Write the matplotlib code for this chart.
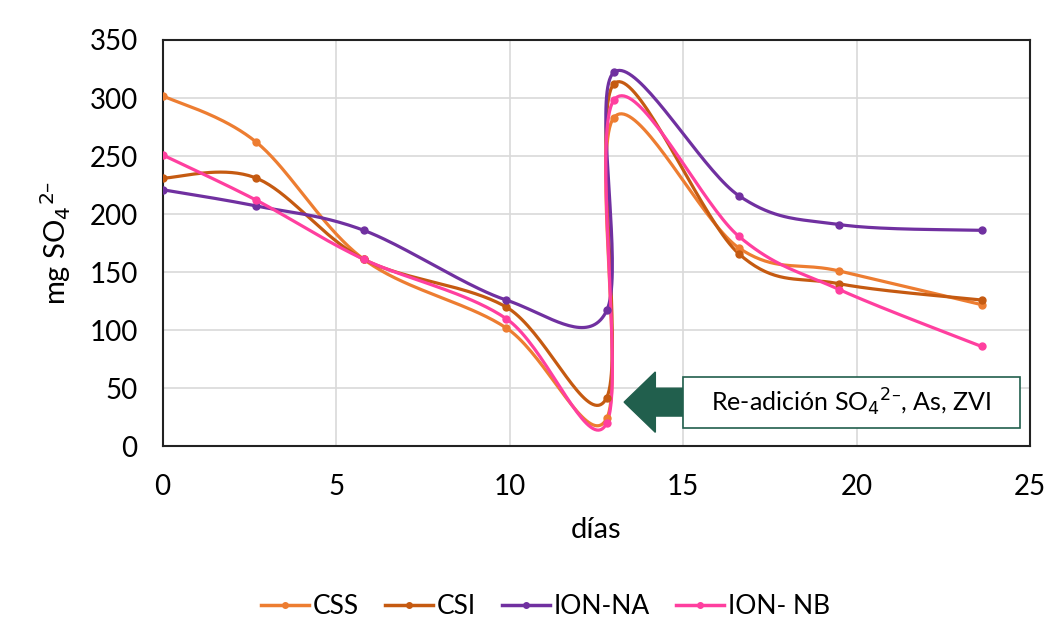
import numpy as np
import matplotlib.pyplot as plt
from matplotlib.patches import FancyArrow, Rectangle

plt.rcParams['font.family'] = ['Lato', 'DejaVu Sans']

dias = [0, 2.7, 5.8, 9.9, 12.8, 13.0, 16.6, 19.5, 23.6]
css = [302, 262, 161, 102, 24, 283, 171, 151, 122]
csi = [231, 231, 161, 120, 42, 312, 166, 140, 126]
ion_na = [221, 207, 186, 126, 117, 322, 216, 191, 186]
ion_nb = [251, 212, 161, 110, 20, 298, 181, 135, 86]

series = [('CSS', css, '#ED7D31'), ('CSI', csi, '#C55A11'),
          ('ION-NA', ion_na, '#7030A0'), ('ION- NB', ion_nb, '#FF3F9F')]


def suave(x, y, yscale=30.0, n=40):
    # curva tipo Excel (Catmull-Rom) en espacio aproximado de pantalla
    p = np.column_stack([np.asarray(x, float), np.asarray(y, float) / yscale])
    pts = np.vstack([p[0], p, p[-1]])
    out = []
    t = np.linspace(0, 1, n)[:, None]
    for i in range(1, len(pts) - 2):
        p0, p1, p2, p3 = pts[i - 1], pts[i], pts[i + 1], pts[i + 2]
        c1 = p1 + (p2 - p0) / 6
        c2 = p2 - (p3 - p1) / 6
        seg = ((1 - t) ** 3) * p1 + 3 * ((1 - t) ** 2) * t * c1 + 3 * (1 - t) * t ** 2 * c2 + t ** 3 * p2
        out.append(seg)
    out = np.vstack(out)
    return out[:, 0], out[:, 1] * yscale


fig = plt.figure(figsize=(10.49, 6.25), dpi=100)
ax = fig.add_axes([0.155, 0.286, 0.827, 0.65])

for nombre, vals, col in series:
    xs, ys = suave(dias, vals)
    ax.plot(xs, ys, color=col, lw=2.3, zorder=3)
    ax.plot(dias, vals, 'o', color=col, ms=5, zorder=4)
    ax.plot([], [], color=col, lw=2.5, marker='o', ms=4, label=nombre)

ax.set_xlim(0, 25)
ax.set_ylim(0, 350)
ax.set_xticks(range(0, 26, 5))
ax.set_yticks(range(0, 351, 50))
ax.grid(True, color='#d9d9d9', lw=1.2)
ax.set_axisbelow(True)
ax.tick_params(labelsize=20, length=0)
ax.tick_params(axis='x', pad=20)
ax.tick_params(axis='y', pad=18)
for s in ax.spines.values():
    s.set_color('#222222')
    s.set_linewidth(1.5)

ax.set_xlabel('días', fontsize=21, labelpad=12)
ax.set_ylabel('mg SO$_4$$^{2\u2013}$', fontsize=21, labelpad=12)

# flecha y caja de la re-adición
ax.add_patch(FancyArrow(15.0, 38, -1.7, 0, width=24, head_width=52, head_length=0.9,
                        length_includes_head=True, color='#215F4D', zorder=5))
ax.add_patch(Rectangle((15.0, 15.5), 9.7, 44, fc='white', ec='#215F4D', lw=1.2, zorder=5))
ax.text(19.85, 37.5, 'Re-adición SO$_4$$^{2\u2013}$, As, ZVI', fontsize=18, ha='center', va='center',
        zorder=6)

fig.legend(loc='center', bbox_to_anchor=(0.52, 0.03), ncol=4, frameon=False,
           fontsize=19, handlelength=1.8, handletextpad=0.15, columnspacing=1.0)

fig.savefig('out.png', dpi=100)
